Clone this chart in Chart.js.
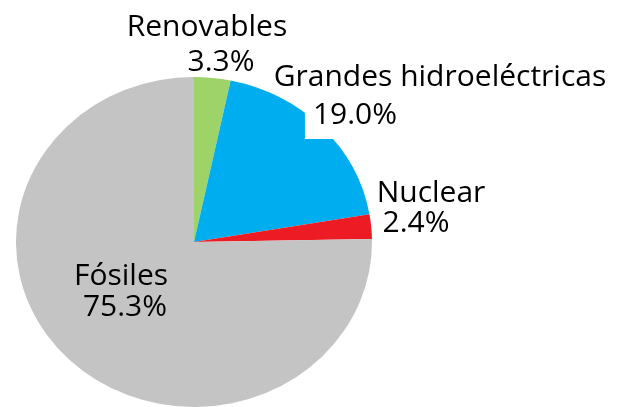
<!DOCTYPE html>
<html>
<head>
<meta charset="utf-8">
<script src="https://cdn.jsdelivr.net/npm/chart.js@4.4.0/dist/chart.umd.min.js"></script>
<style>
  html, body { margin: 0; padding: 0; background: #fff; }
  #wrap { width: 639px; height: 407px; position: relative; }
</style>
</head>
<body>
<div id="wrap"><canvas id="chart" width="639" height="407"></canvas></div>
<script>
// datos
const categories = ['Renovables', 'Grandes hidroeléctricas', 'Nuclear', 'Fósiles'];
const shares = [3.3, 19.0, 2.4, 75.3];
const sliceColors = ['#9ED36A', '#00AEEF', '#ED1C24', '#C4C4C4'];

// posición de cada línea de etiqueta: [centro x, línea base y, fondo blanco]
const labelLines = [
  [[207, 36, false], [221, 71, false]],
  [[440, 86, false], [355, 124, true]],
  [[431, 202, false], [416, 232, false]],
  [[121, 285, false], [125, 316, false]]
];
const labelFont = '30px "Open Sans", sans-serif';

// la tarta original está algo achatada: se estira en x hasta llenar el área
const ellipsePlugin = {
  id: 'ellipse',
  beforeDatasetsDraw(chart) {
    const a = chart.chartArea;
    const cx = (a.left + a.right) / 2, cy = (a.top + a.bottom) / 2;
    const ctx = chart.ctx;
    ctx.save();
    ctx.translate(cx, cy);
    ctx.scale(a.width / a.height, 1);
    ctx.translate(-cx, -cy);
  },
  afterDatasetsDraw(chart) {
    chart.ctx.restore();
  }
};

const labelPlugin = {
  id: 'sliceLabels',
  afterDraw(chart) {
    const ctx = chart.ctx;
    ctx.save();
    ctx.font = labelFont;
    ctx.textAlign = 'center';
    ctx.textBaseline = 'alphabetic';
    categories.forEach((name, i) => {
      const lines = [name, shares[i].toFixed(1) + '%'];
      lines.forEach((txt, j) => {
        const [x, y, boxed] = labelLines[i][j];
        if (boxed) {
          const w = ctx.measureText(txt).width;
          ctx.fillStyle = '#fff';
          ctx.fillRect(x - w / 2 - 8, y - 21, w + 16, 36);
        }
        ctx.fillStyle = '#000';
        ctx.fillText(txt, x, y);
      });
    });
    ctx.restore();
  }
};

new Chart(document.getElementById('chart'), {
  type: 'pie',
  data: {
    labels: categories,
    datasets: [{
      data: shares,
      backgroundColor: sliceColors,
      borderWidth: 0
    }]
  },
  options: {
    responsive: false,
    animation: false,
    devicePixelRatio: 1,
    layout: { padding: { left: 16, right: 267, top: 77, bottom: 0 } },
    plugins: {
      legend: { display: false },
      tooltip: { enabled: false }
    },
    events: []
  },
  plugins: [ellipsePlugin, labelPlugin]
});
</script>
</body>
</html>
